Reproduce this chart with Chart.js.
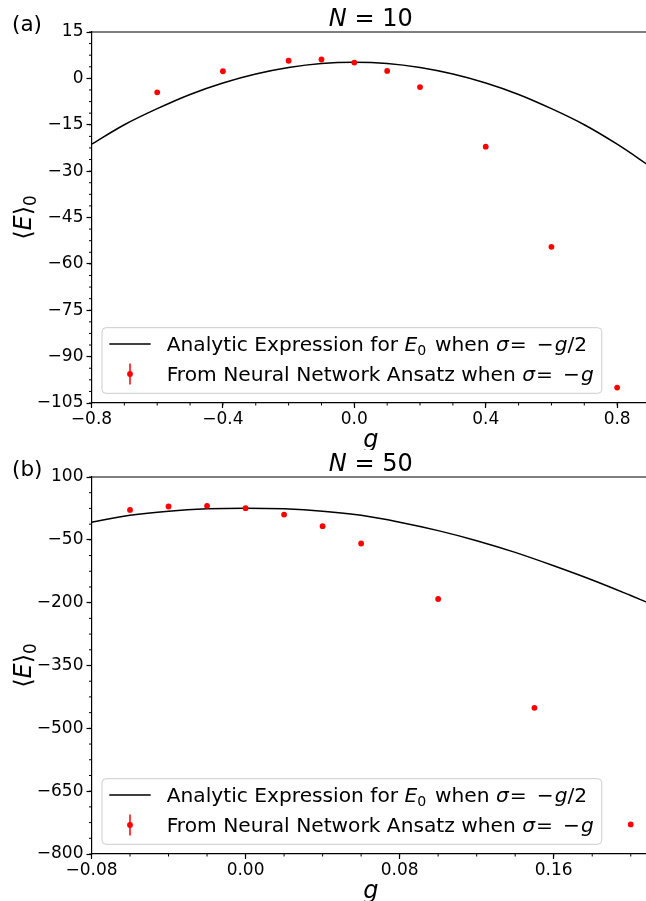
<!DOCTYPE html>
<html><head><meta charset="utf-8">
<script src="https://cdn.jsdelivr.net/npm/chart.js@4.4.1/dist/chart.umd.min.js"></script>
<style>
html,body{margin:0;padding:0;background:#fff;overflow:hidden;width:646px;height:901px;}
canvas{position:absolute;left:0;}
</style></head><body>
<canvas id="cA" width="660" height="450" style="top:0px"></canvas>
<canvas id="cB" width="660" height="456" style="top:445px"></canvas>
<script>
// ---------------- data (panel a, N = 10) ----------------
const curveG_A = [-0.8,-0.7,-0.6,-0.5,-0.4,-0.3,-0.2,-0.1,0.0,0.1,0.2,0.3,0.4,0.5,0.6,0.7,0.8,0.9];
const curveE_A = [-21.3,-15.0,-9.8,-5.2,-1.5,1.4,3.5,4.8,5.2,4.8,3.5,1.4,-1.5,-5.2,-9.8,-15.0,-21.3,-28.4];
const nnG_A = [-0.6,-0.4,-0.2,-0.1,0.0,0.1,0.2,0.4,0.6,0.8];
const nnE_A = [-4.5,2.3,5.7,6.1,5.1,2.4,-2.8,-22.1,-54.5,-100.0];
const xTicksA = [-0.8,-0.4,0.0,0.4,0.8];
const xLabelsA = ['−0.8','−0.4','0.0','0.4','0.8'];
const yTicksA = [15,0,-15,-30,-45,-60,-75,-90,-105];
const yLabelsA = ['15','0','−15','−30','−45','−60','−75','−90','−105'];
const xRangeA = [-0.8, 0.9];
const yRangeA = [-105, 15];

// ---------------- data (panel b, N = 50) ----------------
const curveG_B = [-0.08,-0.06,-0.04,-0.02,0.0,0.02,0.04,0.06,0.08,0.10,0.12,0.14,0.16,0.18,0.20,0.21];
const curveE_B = [-8,8.5,18.5,24,25.5,24,18.5,8.5,-8,-28,-52,-80,-112,-146,-183,-202];
const nnG_B = [-0.06,-0.04,-0.02,0.0,0.02,0.04,0.06,0.10,0.15,0.20];
const nnE_B = [21.4,29.6,31.1,25.5,10.2,-17.5,-58.7,-191.3,-451,-729.4];
const xTicksB = [-0.08,0.0,0.08,0.16];
const xLabelsB = ['−0.08','0.00','0.08','0.16'];
const yTicksB = [100,-50,-200,-350,-500,-650,-800];
const yLabelsB = ['100','−50','−200','−350','−500','−650','−800'];
const xRangeB = [-0.08, 0.21];
const yRangeB = [-800, 100];

// ---------------- text ----------------
const legendRow1 = [{t:'Analytic Expression for ',st:'n'},{t:'E',st:'i'},{t:'0',st:'sub'},{gap:0.12},{t:' when ',st:'n'},{t:'σ',st:'i'},{gap:0.05},{t:'=',st:'n'},{gap:0.5},{t:'−',st:'n'},{gap:0.05},{t:'g',st:'i'},{t:'/2',st:'n'}];
const legendRow2 = [{t:'From Neural Network Ansatz when ',st:'n'},{t:'σ',st:'i'},{gap:0.05},{t:'=',st:'n'},{gap:0.5},{t:'−',st:'n'},{gap:0.05},{t:'g',st:'i'}];
const yLabelSegs = [{t:'⟨',st:'n'},{t:'E',st:'i'},{t:'⟩',st:'n'},{t:'0',st:'sub'}];
const xLabelSegs = [{t:'g',st:'i'}];

const FONT = '"DejaVu Sans"';
const TICK_SIZE = 17, LEG_SIZE = 20.2, TITLE_SIZE = 24, LABEL_SIZE = 24, PANEL_SIZE = 21.5;

function segFont(st, size){
  const s = st === 'sub' ? size*0.7 : size;
  return (st === 'i' ? 'italic ' : '') + s + 'px ' + FONT;
}
function measureRich(ctx, segs, size){
  let w = 0;
  for (const sg of segs){
    if (sg.gap){ w += sg.gap*size; continue; }
    ctx.font = segFont(sg.st, size);
    w += ctx.measureText(sg.t).width;
  }
  return w;
}
function drawRich(ctx, segs, x, y, size, align){
  const w = measureRich(ctx, segs, size);
  let cx = align === 'center' ? x - w/2 : x;
  ctx.textAlign = 'left'; ctx.textBaseline = 'alphabetic'; ctx.fillStyle = '#000';
  for (const sg of segs){
    if (sg.gap){ cx += sg.gap*size; continue; }
    ctx.font = segFont(sg.st, size);
    const dy = sg.st === 'sub' ? size*0.2 : 0;
    ctx.fillText(sg.t, cx, y + dy);
    cx += ctx.measureText(sg.t).width;
  }
  return w;
}

function makeChart(id, cfg){
  const deco = {
    id: 'deco',
    afterDraw(chart){
      const ctx = chart.ctx, ca = chart.chartArea;
      const xs = chart.scales.x, ys = chart.scales.y;
      ctx.save();
      // top & right spines
      ctx.strokeStyle = '#000'; ctx.lineWidth = 1.2;
      ctx.beginPath();
      ctx.moveTo(ca.left, ca.top); ctx.lineTo(ca.right, ca.top); ctx.lineTo(ca.right, ca.bottom);
      ctx.stroke();
      // minor ticks
      ctx.lineWidth = 1;
      const xStep = (cfg.xTicks[1]-cfg.xTicks[0])/4;
      for (let v = cfg.xTicks[0]; v <= cfg.xRange[1] + 1e-9; v += xStep){
        const p = xs.getPixelForValue(v);
        ctx.beginPath(); ctx.moveTo(p, ca.bottom); ctx.lineTo(p, ca.bottom + 2.5); ctx.stroke();
      }
      const yStep = (cfg.yTicks[0]-cfg.yTicks[1])/4;
      for (let v = cfg.yRange[0]; v <= cfg.yRange[1] + 1e-9; v += yStep){
        const p = ys.getPixelForValue(v);
        ctx.beginPath(); ctx.moveTo(ca.left - 2.5, p); ctx.lineTo(ca.left, p); ctx.stroke();
      }
      const cx = (ca.left + ca.right)/2;
      // title
      drawRich(ctx, [{t:'N',st:'i'},{t:' = ' + cfg.nText,st:'n'}], cx, ca.top - 6, TITLE_SIZE, 'center');
      // panel label
      ctx.font = PANEL_SIZE + 'px ' + FONT; ctx.textAlign = 'left'; ctx.textBaseline = 'alphabetic';
      ctx.fillStyle = '#000';
      ctx.fillText(cfg.panel, 12, ca.top - 1);
      // x label
      drawRich(ctx, xLabelSegs, cx, ca.bottom + 44, LABEL_SIZE, 'center');
      // y label
      ctx.save();
      ctx.translate(31, (ca.top + ca.bottom)/2);
      ctx.rotate(-Math.PI/2);
      drawRich(ctx, yLabelSegs, 0, 0, LABEL_SIZE, 'center');
      ctx.restore();
      // legend
      const w1 = measureRich(ctx, legendRow1, LEG_SIZE), w2 = measureRich(ctx, legendRow2, LEG_SIZE);
      const lx = ca.left + 10.5, lb = ca.bottom - 9.7, lh = 65.6;
      const lw = 64.7 + Math.max(w1, w2) + 8;
      const lt = lb - lh;
      ctx.beginPath();
      ctx.roundRect(lx, lt, lw, lh, 4);
      ctx.fillStyle = 'rgba(255,255,255,0.8)'; ctx.fill();
      ctx.strokeStyle = '#cccccc'; ctx.lineWidth = 1; ctx.stroke();
      const r1 = lt + 16.3, r2 = lt + 46.3;
      ctx.strokeStyle = '#000'; ctx.lineWidth = 1.5;
      ctx.beginPath(); ctx.moveTo(lx + 7.3, r1); ctx.lineTo(lx + 48.7, r1); ctx.stroke();
      ctx.strokeStyle = '#ff0000';
      ctx.beginPath(); ctx.moveTo(lx + 28, r2 - 10.5); ctx.lineTo(lx + 28, r2 + 10.5); ctx.stroke();
      ctx.fillStyle = '#ff0000';
      ctx.beginPath(); ctx.arc(lx + 28, r2, 2.9, 0, Math.PI*2); ctx.fill();
      drawRich(ctx, legendRow1, lx + 64.7, r1 + 7.3, LEG_SIZE, 'left');
      drawRich(ctx, legendRow2, lx + 64.7, r2 + 7.3, LEG_SIZE, 'left');
      ctx.restore();
    }
  };
  return new Chart(document.getElementById(id), {
    type: 'scatter',
    data: {
      datasets: [
        { label: 'From Neural Network Ansatz',
          data: cfg.nnG.map((g,i) => ({x:g, y:cfg.nnE[i]})),
          showLine: false, pointRadius: 2.9, pointHoverRadius: 2.9,
          pointBackgroundColor: '#ff0000', pointBorderWidth: 0, backgroundColor:'#ff0000', borderColor:'#ff0000' },
        { label: 'Analytic Expression',
          data: cfg.curveG.map((g,i) => ({x:g, y:cfg.curveE[i]})),
          showLine: true, pointRadius: 0, pointHoverRadius: 0, borderColor: '#000', borderWidth: 1.5,
          cubicInterpolationMode: 'monotone', fill: false }
      ]
    },
    options: {
      responsive: false, animation: false, devicePixelRatio: 1,
      layout: { padding: { top: 32, right: 10, left: 0, bottom: 0 } },
      plugins: { legend: { display: false }, tooltip: { enabled: false } },
      events: [],
      scales: {
        x: {
          type: 'linear', min: cfg.xRange[0], max: cfg.xRange[1],
          afterBuildTicks: s => { s.ticks = cfg.xTicks.map(v => ({value: v})); },
          afterFit: s => { s.height = 47; },
          ticks: { callback: (v, i) => cfg.xLabels[i], font: { family: FONT, size: TICK_SIZE }, color: '#000', padding: 1, maxRotation: 0, autoSkip: false },
          grid: { drawOnChartArea: false, drawTicks: true, tickLength: 5, tickColor: '#000', tickWidth: 1.2 },
          border: { display: true, color: '#000', width: 1.2 }
        },
        y: {
          type: 'linear', min: cfg.yRange[0], max: cfg.yRange[1],
          afterBuildTicks: s => { s.ticks = cfg.yTicks.map(v => ({value: v})); },
          afterFit: s => { s.width = 91.5; },
          ticks: { callback: (v, i) => cfg.yLabels[i], font: { family: FONT, size: TICK_SIZE }, color: '#000', padding: 3, autoSkip: false },
          grid: { drawOnChartArea: false, drawTicks: true, tickLength: 5, tickColor: '#000', tickWidth: 1.2 },
          border: { display: true, color: '#000', width: 1.2 }
        }
      }
    },
    plugins: [deco]
  });
}

makeChart('cA', { curveG: curveG_A, curveE: curveE_A, nnG: nnG_A, nnE: nnE_A,
  xTicks: xTicksA, xLabels: xLabelsA, yTicks: yTicksA, yLabels: yLabelsA,
  xRange: xRangeA, yRange: yRangeA, nText: '10', panel: '(a)' });
makeChart('cB', { curveG: curveG_B, curveE: curveE_B, nnG: nnG_B, nnE: nnE_B,
  xTicks: xTicksB, xLabels: xLabelsB, yTicks: yTicksB, yLabels: yLabelsB,
  xRange: xRangeB, yRange: yRangeB, nText: '50', panel: '(b)' });
</script>
</body></html>
